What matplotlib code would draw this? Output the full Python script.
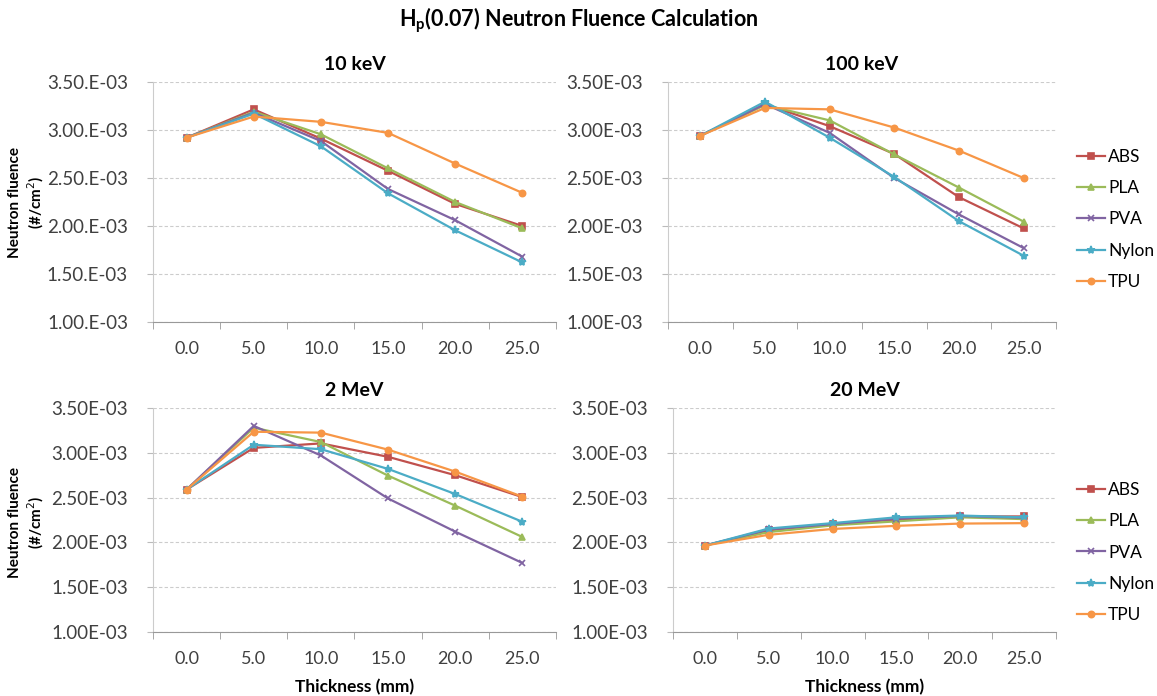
import matplotlib
matplotlib.use("Agg")
import matplotlib.pyplot as plt
import numpy as np

plt.rcParams["font.family"] = ["Lato", "DejaVu Sans"]

# thickness categories (mm)
thickness = ["0.0", "5.0", "10.0", "15.0", "20.0", "25.0"]
materials = ["ABS", "PLA", "PVA", "Nylon", "TPU"]

# neutron fluence values, units of 1e-3 #/cm2
kev10_abs = [2.92, 3.215, 2.91, 2.575, 2.23, 2.00]
kev10_pla = [2.92, 3.19, 2.955, 2.60, 2.25, 1.975]
kev10_pva = [2.92, 3.18, 2.885, 2.385, 2.06, 1.68]
kev10_nylon = [2.92, 3.17, 2.83, 2.34, 1.955, 1.62]
kev10_tpu = [2.92, 3.14, 3.085, 2.97, 2.65, 2.345]

kev100_abs = [2.94, 3.27, 3.04, 2.75, 2.30, 1.975]
kev100_pla = [2.94, 3.26, 3.10, 2.745, 2.40, 2.045]
kev100_pva = [2.94, 3.27, 2.97, 2.50, 2.12, 1.77]
kev100_nylon = [2.94, 3.295, 2.92, 2.51, 2.05, 1.69]
kev100_tpu = [2.94, 3.23, 3.215, 3.025, 2.785, 2.50]

mev2_abs = [2.59, 3.055, 3.105, 2.955, 2.75, 2.505]
mev2_pla = [2.59, 3.28, 3.12, 2.745, 2.41, 2.06]
mev2_pva = [2.59, 3.30, 2.97, 2.49, 2.12, 1.77]
mev2_nylon = [2.59, 3.09, 3.04, 2.82, 2.54, 2.23]
mev2_tpu = [2.59, 3.235, 3.225, 3.035, 2.79, 2.51]

mev20_abs = [1.965, 2.135, 2.205, 2.255, 2.29, 2.29]
mev20_pla = [1.965, 2.115, 2.19, 2.235, 2.28, 2.26]
mev20_pva = [1.965, 2.145, 2.205, 2.265, 2.295, 2.275]
mev20_nylon = [1.965, 2.155, 2.215, 2.28, 2.30, 2.28]
mev20_tpu = [1.965, 2.085, 2.15, 2.185, 2.21, 2.215]

yticks = [1.0e-3, 1.5e-3, 2.0e-3, 2.5e-3, 3.0e-3, 3.5e-3]
ylabels_dot = ["1.00.E-03", "1.50.E-03", "2.00.E-03", "2.50.E-03", "3.00.E-03", "3.50.E-03"]
ylabels_std = ["1.00E-03", "1.50E-03", "2.00E-03", "2.50E-03", "3.00E-03", "3.50E-03"]

colors = {"ABS": "#C0504D", "PLA": "#9BBB59", "PVA": "#8064A2",
          "Nylon": "#4BACC6", "TPU": "#F79646"}
markers = {"ABS": "s", "PLA": "^", "PVA": "x", "Nylon": "*", "TPU": "o"}

panels = [
    ("10 keV", [kev10_abs, kev10_pla, kev10_pva, kev10_nylon, kev10_tpu],
     ylabels_dot, (153, 556, 82, 322)),
    ("100 keV", [kev100_abs, kev100_pla, kev100_pva, kev100_nylon, kev100_tpu],
     ylabels_std, (668, 1056, 82, 322)),
    ("2 MeV", [mev2_abs, mev2_pla, mev2_pva, mev2_nylon, mev2_tpu],
     ylabels_std, (153, 556, 408, 632)),
    ("20 MeV", [mev20_abs, mev20_pla, mev20_pva, mev20_nylon, mev20_tpu],
     ylabels_std, (673, 1056, 408, 632)),
]

W, H = 1157, 696
fig = plt.figure(figsize=(W / 100, H / 100), dpi=100)
fig.patch.set_facecolor("white")

x = np.arange(len(thickness))
axes = []
for title, series, ylabs, (l, r, t, b) in panels:
    ax = fig.add_axes([l / W, 1 - b / H, (r - l) / W, (b - t) / H])
    for name, vals in zip(materials, series):
        ms = 6 if markers[name] == "*" else 4.5
        ax.plot(x, np.array(vals) * 1e-3, color=colors[name], lw=1.6,
                marker=markers[name], ms=ms, mew=1.2, label=name)
    ax.set_xlim(-0.5, len(thickness) - 0.5)
    ax.set_ylim(1.0e-3, 3.5e-3)
    ax.set_yticks(yticks)
    ax.set_yticklabels(ylabs, fontsize=13.5, color="#404040")
    ax.set_xticks(x)
    ax.set_xticklabels(thickness, fontsize=13, color="#404040")
    ax.set_xticks(np.arange(-0.5, len(thickness)), minor=True)
    ax.tick_params(axis="x", which="major", length=0, pad=14)
    ax.tick_params(axis="x", which="minor", length=5, color="#999999")
    ax.tick_params(axis="y", length=4, color="#bbbbbb", pad=14)
    ax.grid(axis="y", color="#cccccc", linestyle=(0, (3, 2)), lw=0.8)
    ax.set_axisbelow(True)
    for s in ("top", "right"):
        ax.spines[s].set_visible(False)
    ax.spines["left"].set_color("#cccccc")
    ax.spines["bottom"].set_color("#999999")
    ax.set_title(title, fontsize=14, fontweight="bold", pad=9)
    axes.append(ax)

for ax in axes[2:]:
    ax.set_xlabel("Thickness (mm)", fontsize=12.5, fontweight="bold", labelpad=8)

for yc in (202, 522):
    fig.text(27 / W, 1 - yc / H, "Neutron fluence\n(#/cm$^2$)", rotation=90,
             ha="center", va="center", fontsize=11, fontweight="bold",
             linespacing=1.25)

for ax, ytop in ((axes[1], 142), (axes[3], 475)):
    handles, labels = ax.get_legend_handles_labels()
    fig.legend(handles, labels, loc="upper left",
               bbox_to_anchor=(1070 / W, 1 - ytop / H), frameon=False,
               fontsize=12.5, labelspacing=0.88, handlelength=1.6,
               handletextpad=0.2, borderaxespad=0)

fig.text(0.5, 1 - 20 / H, r"H$_{\mathregular{p}}$(0.07) Neutron Fluence Calculation",
         ha="center", va="center", fontsize=15.5, fontweight="bold")

fig.savefig("out.png", dpi=100)
